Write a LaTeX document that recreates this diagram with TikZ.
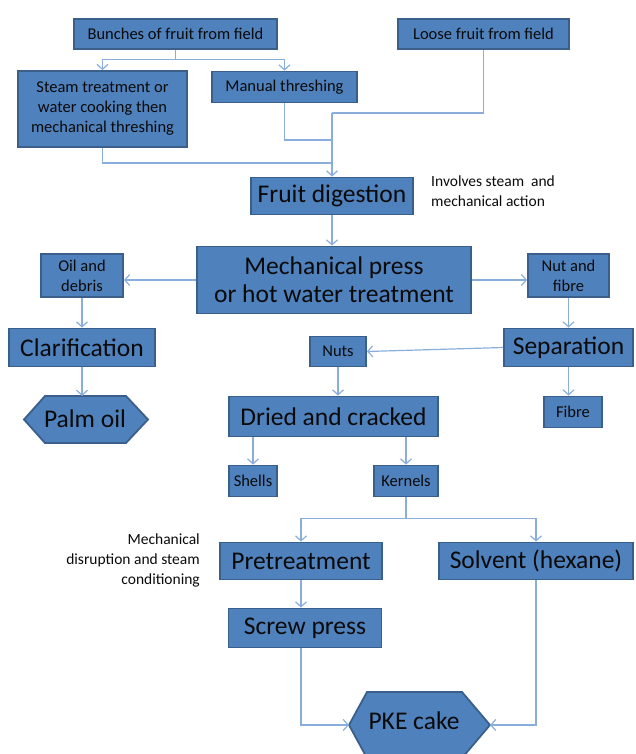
\documentclass[tikz,border=0pt]{standalone}
\usepackage{fontspec}
\setmainfont{Carlito}
\usetikzlibrary{arrows.meta}
\definecolor{boxc}{HTML}{4F81BD}
\definecolor{bordc}{HTML}{3A5F8B}
\definecolor{linec}{HTML}{8AAEDC}
\definecolor{txtc}{HTML}{0A0A0A}
\tikzset{
  box/.style={draw=bordc, fill=boxc, line width=1.8pt, inner sep=1pt, align=center, text=txtc},
  bigt/.style={font=\fontsize{25.5}{28}\selectfont},
  smallt/.style={font=\fontsize{16.5}{20}\selectfont},
  annot/.style={font=\fontsize{15.5}{20}\selectfont, text=txtc, inner sep=0pt},
  hexa/.style={draw=bordc, fill=boxc, line width=1.8pt, line join=miter},
  conn/.style={draw=linec, line width=1.2pt},
  arr/.style={conn, -{Straight Barb[length=5pt,width=11pt]}},
}
\begin{document}
\begin{tikzpicture}[x=1pt,y=-1pt]
\useasboundingbox (0,0) rectangle (635,754);
% top boxes
\node[box,smallt,minimum width=203,minimum height=30] (bunches) at (175.5,34) {Bunches of fruit from field};
\node[box,smallt,minimum width=171,minimum height=30] (loose) at (483.5,34) {Loose fruit from field};
\node[box,smallt,minimum width=169,minimum height=76] (steam) at (102.5,109) {Steam treatment or\\water cooking then\\mechanical threshing};
\node[box,smallt,minimum width=145,minimum height=31] (manual) at (284.5,87) {Manual threshing};
\node[box,bigt,minimum width=162,minimum height=37] (fruit) at (332,196) {Fruit digestion};
\node[annot,anchor=north west,align=left] (inv) at (431,176) {Involves steam \ and\\mechanical action};
\node[box,bigt,minimum width=274,minimum height=67] (mech) at (334,280) {Mechanical press\\or hot water treatment};
\node[box,smallt,minimum width=82,minimum height=43] (oil) at (82,275.5) {Oil and\\debris};
\node[box,smallt,minimum width=81,minimum height=43] (nut) at (568.5,275.5) {Nut and\\fibre};
\node[box,bigt,minimum width=146,minimum height=38] (clar) at (82,347.5) {Clarification};
\node[box,smallt,minimum width=56,minimum height=30] (nuts) at (338,351.5) {Nuts};
\node[box,bigt,minimum width=129,minimum height=38] (sep) at (568.5,347.5) {Separation};
% palm oil hexagon
\coordinate (palmL) at (24,419.5);
\coordinate (palmT) at (86,396);
\draw[hexa] (palmL) -- (45,396) -- (126,396) -- (148,419.5) -- (126,443) -- (45,443) -- cycle;
\node[bigt,text=txtc,inner sep=0pt] (palm) at (85,419) {Palm oil};
\node[box,bigt,minimum width=209,minimum height=40] (dried) at (333.5,416.5) {Dried and cracked};
\node[box,smallt,minimum width=58,minimum height=31] (fibre) at (573,412) {Fibre};
\node[box,smallt,minimum width=48,minimum height=31] (shells) at (253,481) {Shells};
\node[box,smallt,minimum width=64,minimum height=31] (kernels) at (406,481) {Kernels};
\node[annot,anchor=east,align=right] (mdis) at (200,560) {Mechanical\\disruption and steam\\conditioning};
\node[box,bigt,minimum width=162,minimum height=37] (pre) at (301,561) {Pretreatment};
\node[box,bigt,minimum width=194,minimum height=37] (solv) at (536,561) {Solvent (hexane)};
\node[box,bigt,minimum width=153,minimum height=39] (screw) at (305,628) {Screw press};
% PKE hexagon
\coordinate (pkeL) at (349,725);
\coordinate (pkeR) at (490,725);
\draw[hexa] (pkeL) -- (367,692) -- (462,692) -- (pkeR) -- (462,758) -- (367,758) -- cycle;
\node[bigt,text=txtc,inner sep=0pt] (pke) at (414,721) {PKE cake};
% connectors
\draw[conn] (bunches.south) -- ++(0,10) coordinate (bsplit);
\draw[arr] (bsplit) -| (steam.north);
\draw[arr] (bsplit) -| (manual.north);
\coordinate (j1) at (332,113);
\coordinate (j2) at (332,140);
\coordinate (j3) at (332,163);
\draw[conn] (loose.south) |- (j1);
\draw[conn] (manual.south) |- (j2);
\draw[conn] (steam.south) |- (j3);
\draw[arr] (j1) -- (fruit.north);
\draw[arr] (fruit.south) -- (fruit.south |- mech.north);
\draw[arr] (mech.west) -- (mech.west -| oil.east);
\draw[arr] (mech.east) -- (mech.east -| nut.west);
\draw[arr] (oil.south) -- (clar.north);
\draw[arr] (nut.south) -- (sep.north);
\draw[arr] (sep.west) -- (nuts.east);
\draw[arr] (clar.south) -- (clar.south |- palmT);
\draw[arr] (nuts.south) -- (nuts.south |- dried.north);
\draw[arr] (sep.south) -- (sep.south |- fibre.north);
\draw[arr] (shells.north |- dried.south) -- (shells.north);
\draw[arr] (kernels.north |- dried.south) -- (kernels.north);
\draw[conn] (kernels.south) -- ++(0,21) coordinate (ksplit);
\draw[arr] (ksplit) -| (pre.north);
\draw[arr] (ksplit) -| (solv.north);
\draw[arr] (pre.south) -- (pre.south |- screw.north);
\draw[arr] (screw.south -| pre.south) |- (pkeL);
\draw[arr] (solv.south) |- (pkeR);
\end{tikzpicture}
\end{document}
